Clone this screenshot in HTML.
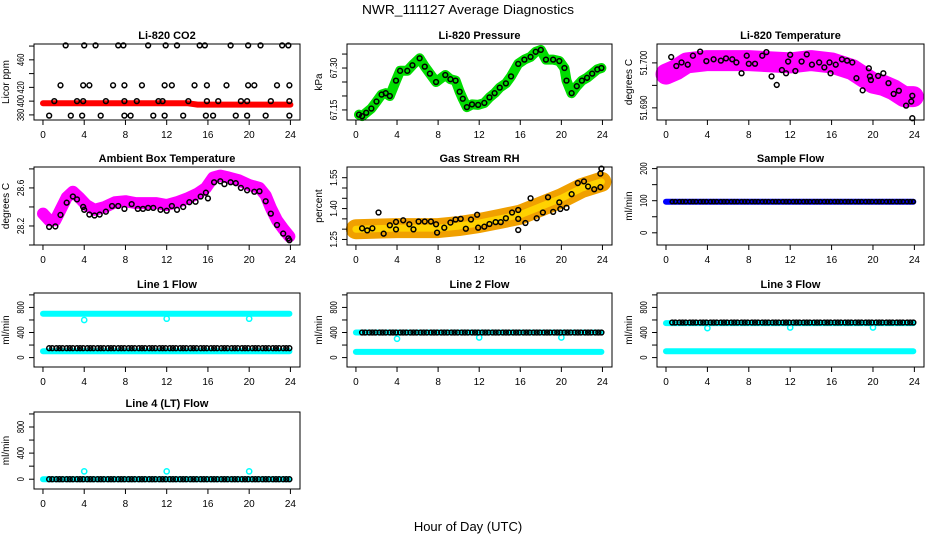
<!DOCTYPE html>
<html><head><meta charset="utf-8">
<style>
html,body{margin:0;padding:0;background:#fff;}
svg{display:block;font-family:"Liberation Sans",Arial,sans-serif;}
</style></head>
<body>
<svg id="chart" width="936" height="540" viewBox="0 0 936 540" xmlns="http://www.w3.org/2000/svg">
<text x="468" y="14" text-anchor="middle" font-size="13" textLength="212" lengthAdjust="spacingAndGlyphs">NWR_111127  Average Diagnostics</text>
<text x="468" y="531" text-anchor="middle" font-size="13">Hour of Day (UTC)</text>
</svg>
<script>
const xTicks = [0,4,8,12,16,20,24];
const sampleTimes = [0.6,0.9,1.3,1.6,1.9,2.3,2.6,2.9,3.3,3.6,3.9,4.3,4.6,4.9,5.3,5.6,5.9,6.3,6.6,6.9,7.3,7.6,7.9,8.3,8.6,8.9,9.3,9.6,9.9,10.3,10.6,10.9,11.3,11.6,11.9,12.3,12.6,12.9,13.3,13.6,13.9,14.3,14.6,14.9,15.3,15.6,15.9,16.3,16.6,16.9,17.3,17.6,17.9,18.3,18.6,18.9,19.3,19.6,19.9,20.3,20.6,20.9,21.3,21.6,21.9,22.3,22.6,22.9,23.3,23.6,23.9];
const dipTimes = [4,12,20];

// CO2
const co2Red = [[0,397],[14,397],[15,395],[24,395]];
const co2Black = [[2.2,481],[4,481],[5.1,481],[7.3,481],[7.8,481],[10.2,481],[11.9,481],[13,481],[15.2,481],[15.7,481],[18.2,481],[19.9,481],[21.1,481],[23.2,481],[23.8,481],
[1.7,423],[3.9,423],[4.5,423],[6.8,423],[7.9,423],[9.6,423],[11.8,423],[12.5,423],[14.7,423],[15.9,423],[17.8,423],[19.9,423],[20.5,423],[22.7,423],[23.9,423],
[1.1,400],[3.3,400],[3.9,400],[6.1,400],[7.9,400],[9.1,400],[11.2,400],[11.6,400],[14.1,400],[15.9,400],[17,400],[19.2,400],[19.8,400],[22.1,400],[23.9,400],
[0.6,379],[2.7,379],[3.8,379],[5.6,379],[7.9,379],[8.5,379],[10.7,379],[11.8,379],[13.6,379],[15.8,379],[16.5,379],[18.7,379],[19.8,379],[21.6,379],[23.9,379]];
// Pressure
const pressure = [[0.3,67.133],[0.6,67.128],[1,67.14],[1.5,67.155],[2,67.18],[2.5,67.205],[2.9,67.21],[3.3,67.20],[3.9,67.255],[4.3,67.29],[5,67.29],[5.5,67.31],[6.2,67.335],[6.7,67.305],[7.2,67.28],[7.8,67.25],[8.7,67.275],[9.2,67.26],[9.7,67.255],[10.1,67.215],[10.4,67.19],[10.8,67.16],[11.3,67.17],[11.9,67.168],[12.5,67.175],[13,67.195],[13.5,67.21],[14,67.23],[14.6,67.245],[15.1,67.27],[15.8,67.315],[16.4,67.33],[17,67.34],[17.5,67.358],[18,67.365],[18.5,67.33],[19.2,67.33],[19.8,67.325],[20.3,67.30],[20.5,67.255],[21,67.21],[21.5,67.235],[22,67.255],[22.5,67.265],[23,67.28],[23.5,67.295],[23.9,67.30]];
// Li-820 temperature
const ltempBand = [[0,51.6975],[1,51.6985],[2,51.7000],[4,51.7005],[8,51.7005],[12,51.7000],[14,51.7005],[16,51.7000],[18,51.6985],[19,51.6970],[20,51.6955],[21,51.6950],[22,51.6940],[23,51.6925],[23.9,51.6925]];
const ltempBlack = [[0.5,51.7013],[1,51.6993],[1.5,51.7001],[2.1,51.6996],[2.6,51.7016],[3.3,51.7025],[3.9,51.7004],[4.6,51.7008],[5.3,51.7005],[5.8,51.7010],[6.4,51.7008],[6.8,51.7001],[7.3,51.6977],[7.8,51.7016],[8,51.6998],[8.6,51.6998],[9.3,51.7016],[9.7,51.7024],[10.2,51.6970],[10.7,51.6951],[11.2,51.6984],[11.6,51.6977],[11.8,51.7003],[12,51.7018],[12.5,51.6982],[13.1,51.7003],[13.6,51.7019],[14.1,51.6996],[14.8,51.7001],[15.3,51.6990],[15.8,51.7001],[15.9,51.6977],[16.4,51.6996],[17,51.7008],[17.5,51.7005],[18,51.7001],[18.4,51.6966],[19,51.6939],[19.6,51.6988],[19.7,51.6970],[19.8,51.6962],[20.5,51.6971],[21,51.6977],[21.5,51.6955],[22,51.6931],[22.5,51.6938],[23.2,51.6905],[23.7,51.6914],[23.8,51.6927],[23.8,51.6877]];
// Ambient
const ambBand = [[0,28.33],[0.6,28.26],[1.2,28.26],[1.7,28.37],[2.3,28.50],[2.9,28.56],[3.5,28.50],[4.2,28.42],[5,28.37],[6,28.40],[7,28.45],[8,28.46],[9,28.44],[10,28.44],[11,28.44],[12,28.42],[13,28.45],[14,28.49],[15,28.54],[15.8,28.60],[16.5,28.71],[17.2,28.73],[18,28.71],[19,28.68],[20,28.63],[21,28.60],[21.6,28.52],[22.1,28.39],[22.7,28.26],[23.3,28.17],[23.9,28.09]];
const ambBlack = [[0.6,28.19],[1.2,28.195],[1.7,28.316],[2.3,28.445],[2.9,28.51],[3.3,28.48],[3.9,28.40],[4.0,28.37],[4.5,28.32],[5,28.31],[5.5,28.32],[6.1,28.35],[6.7,28.41],[7.3,28.41],[7.9,28.38],[8.6,28.43],[9.2,28.38],[9.7,28.38],[10.2,28.39],[10.7,28.39],[11.4,28.37],[12,28.36],[12.5,28.41],[13,28.37],[13.6,28.40],[14.2,28.45],[14.8,28.455],[15.3,28.51],[15.8,28.55],[16,28.49],[16.6,28.66],[17.2,28.67],[17.6,28.64],[18.2,28.66],[18.7,28.65],[19.2,28.60],[19.8,28.575],[20.5,28.56],[21,28.565],[21.6,28.46],[22.1,28.33],[22.7,28.21],[23.3,28.12],[23.8,28.07],[23.9,28.05]];
// Gas RH
const rhBand = [[0,1.30],[4,1.305],[8,1.305],[10,1.315],[12,1.33],[14,1.35],[16,1.37],[18,1.41],[20,1.45],[22,1.50],[23.9,1.53]];
const rhBlack = [[0.6,1.304],[1.1,1.294],[1.6,1.304],[2.2,1.381],[2.7,1.278],[3.3,1.319],[3.9,1.335],[3.9,1.299],[4.6,1.343],[5.2,1.324],[5.6,1.299],[6.1,1.337],[6.7,1.337],[7.3,1.337],[7.8,1.324],[7.9,1.283],[8.6,1.307],[9.2,1.332],[9.7,1.347],[10.2,1.350],[10.7,1.302],[11.2,1.347],[11.8,1.370],[11.9,1.307],[12.5,1.312],[13,1.325],[13.6,1.334],[14.1,1.334],[14.6,1.353],[15.2,1.381],[15.8,1.393],[15.8,1.350],[15.8,1.296],[16.5,1.330],[17,1.450],[17.6,1.353],[18.2,1.381],[18.7,1.455],[19.2,1.384],[19.8,1.430],[19.9,1.398],[20.5,1.404],[21,1.470],[21.6,1.524],[22.2,1.532],[22.6,1.507],[23.2,1.494],[23.8,1.504],[23.8,1.570],[23.9,1.594]];
// Flows
const sampleFlowBlue = 97, sampleFlowBlack = 97;
const line1Black = 150, line1CyanHigh = 700, line1CyanLow = 100, line1Dips = [600,620,620];
const line2Black = 400, line2CyanHigh = 400, line2CyanLow = 90, line2Dips = [300,320,320];
const line3Black = 560, line3CyanHigh = 550, line3CyanLow = 100, line3Dips = [470,480,480];
const line4Black = 0, line4Cyan = 0, line4Dips = [120,120,120];

const NS = "http://www.w3.org/2000/svg";
const svg = document.getElementById('chart');
const colBox = [[34,300],[347,612],[657,924]];
const rowBox = [[44,120],[167,245],[293,367],[412,489]];
const xDom = [-0.87, 24.93];

function mk(tag, attrs, parent){
  const e = document.createElementNS(NS, tag);
  for (const k in attrs) e.setAttribute(k, attrs[k]);
  (parent||svg).appendChild(e);
  return e;
}

function panel(name, col, row, title, ytitle, yDom, yTicks, yLabels){
  const [x0,x1] = colBox[col], [y0,y1] = rowBox[row];
  const g = mk('g', {});
  
  
  const sx = v => x0 + (v - xDom[0]) / (xDom[1]-xDom[0]) * (x1-x0);
  const sy = v => y1 - (v - yDom[0]) / (yDom[1]-yDom[0]) * (y1-y0);
  const plot = mk('g', {}, g);
  
  
  const t = mk('text', {x:(x0+x1)/2, y:y0-5, 'text-anchor':'middle', 'font-size':11, 'font-weight':'bold'}, g);
  
  
  t.textContent = title;
  const box = mk('rect', {x:x0, y:y0, width:x1-x0, height:y1-y0, fill:'none', stroke:'#000', 'stroke-width':1}, g);
  
  
  const xa = mk('g', {}, g);
  
  
  mk('line', {x1:sx(xTicks[0]), x2:sx(xTicks[xTicks.length-1]), y1:y1, y2:y1, stroke:'#000'}, xa);
  xTicks.forEach(v => {
    mk('line', {x1:sx(v), x2:sx(v), y1:y1, y2:y1+5, stroke:'#000'}, xa);
    const l = mk('text', {x:sx(v), y:y1+18, 'text-anchor':'middle', 'font-size':10}, xa);
    
    
    l.textContent = v;
  });
  const ya = mk('g', {}, g);
  
  
  mk('line', {x1:x0, x2:x0, y1:sy(yTicks[0]), y2:sy(yTicks[yTicks.length-1]), stroke:'#000'}, ya);
  yTicks.forEach(v => mk('line', {x1:x0-5, x2:x0, y1:sy(v), y2:sy(v), stroke:'#000'}, ya));
  yLabels.forEach(([v, s]) => {
    const yy = sy(v), xx = x0-10;
    const l = mk('text', {x:xx, y:yy, 'text-anchor':'middle', 'font-size':10, textLength: (s.length*4.1).toFixed(1), lengthAdjust:'spacingAndGlyphs', transform:`rotate(-90 ${xx} ${yy})`}, ya);
    
    
    l.textContent = s;
  });
  const yc = (y0+y1)/2, xt = x0-25;
  const yt = mk('text', {x:xt, y:yc, 'text-anchor':'middle', 'font-size':10, transform:`rotate(-90 ${xt} ${yc})`}, ya);
  
  
  yt.textContent = ytitle;
  return {sx, sy, plot, g};
}

function band(p, pts, color, w, name){
  const d = pts.map((q,i) => (i?'L':'M') + p.sx(q[0]).toFixed(1) + ' ' + p.sy(q[1]).toFixed(1)).join(' ');
  const e = mk('path', {d, fill:'none', stroke:color, 'stroke-width':w, 'stroke-linejoin':'round', 'stroke-linecap':'round'}, p.plot);
  
  
}
function pts(p, data, color, name, r){
  data.forEach(q => {
    const c = mk('circle', {cx:p.sx(q[0]), cy:p.sy(q[1]), r:r||2.4, fill:'none', stroke:color, 'stroke-width':1.5}, p.plot);
    
    
  });
}

let p = panel('co2', 0, 0, 'Li-820 CO2', 'Licor ppm', [372.6,483], [380,400,420,440,460,480], [[380,'380'],[400,'400'],[420,'420'],[460,'460']]);
band(p, co2Red, '#ff0000', 6, 'co2-red-series');
pts(p, co2Black, '#000', 'co2-point');

p = panel('pressure', 1, 0, 'Li-820 Pressure', 'kPa', [67.114,67.386], [67.15,67.20,67.25,67.30,67.35], [[67.15,'67.15'],[67.30,'67.30']]);
band(p, pressure, '#00dd00', 10, 'pressure-green-series');
pts(p, pressure, '#000', 'pressure-point');

p = panel('li820-temperature', 2, 0, 'Li-820 Temperature', 'degrees C', [51.6873,51.7042], [51.690,51.695,51.700], [[51.690,'51.690'],[51.700,'51.700']]);
band(p, ltempBand, '#ff00ff', 21, 'temperature-magenta-series');
pts(p, ltempBlack, '#000', 'temperature-point');

p = panel('ambient-temperature', 0, 1, 'Ambient Box Temperature', 'degrees C', [28.0,28.82], [28.0,28.2,28.4,28.6,28.8], [[28.2,'28.2'],[28.6,'28.6']]);
band(p, ambBand, '#ff00ff', 12, 'ambient-magenta-series');
pts(p, ambBlack, '#000', 'ambient-point');

p = panel('gas-rh', 1, 1, 'Gas Stream RH', 'percent', [1.223,1.602], [1.25,1.30,1.35,1.40,1.45,1.50,1.55], [[1.25,'1.25'],[1.40,'1.40'],[1.55,'1.55']]);
band(p, rhBand, '#f0a000', 20, 'rh-orange-series');
band(p, rhBand, '#ffd200', 7, 'rh-yellow-series');
pts(p, rhBlack, '#000', 'rh-point');

p = panel('sample-flow', 2, 1, 'Sample Flow', 'ml/min', [-38,205], [0,50,100,150,200], [[0,'0'],[100,'100'],[200,'200']]);
band(p, [[0,sampleFlowBlue],[23.9,sampleFlowBlue]], '#0000ff', 6, 'sample-flow-blue-series');
pts(p, sampleTimes.map(t => [t, sampleFlowBlack]), '#000', 'sample-flow-point', 2);

const flowDom = [-150,1030], flowTicks = [0,200,400,600,800,1000], flowLabels = [[0,'0'],[400,'400'],[800,'800']];
function flowPanel(name, col, row, title, blackV, hi, lo, dips){
  const q = panel(name, col, row, title, 'ml/min', flowDom, flowTicks, flowLabels);
  band(q, [[0,hi],[23.9,hi]], '#00ffff', 6, name + '-cyan-high-series');
  if (lo !== null) band(q, [[0,lo],[23.9,lo]], '#00ffff', 6, name + '-cyan-low-series');
  pts(q, dipTimes.map((t,i) => [t, dips[i]]), '#00ffff', name + '-cyan-dip', 2.6);
  pts(q, sampleTimes.map(t => [t, blackV]), '#000', name + '-point', 2.4);
}
flowPanel('line1-flow', 0, 2, 'Line 1 Flow', line1Black, line1CyanHigh, line1CyanLow, line1Dips);
flowPanel('line2-flow', 1, 2, 'Line 2 Flow', line2Black, line2CyanHigh, line2CyanLow, line2Dips);
flowPanel('line3-flow', 2, 2, 'Line 3 Flow', line3Black, line3CyanHigh, line3CyanLow, line3Dips);
flowPanel('line4-flow', 0, 3, 'Line 4 (LT) Flow', line4Black, line4Cyan, null, line4Dips);
</script>
</body></html>
